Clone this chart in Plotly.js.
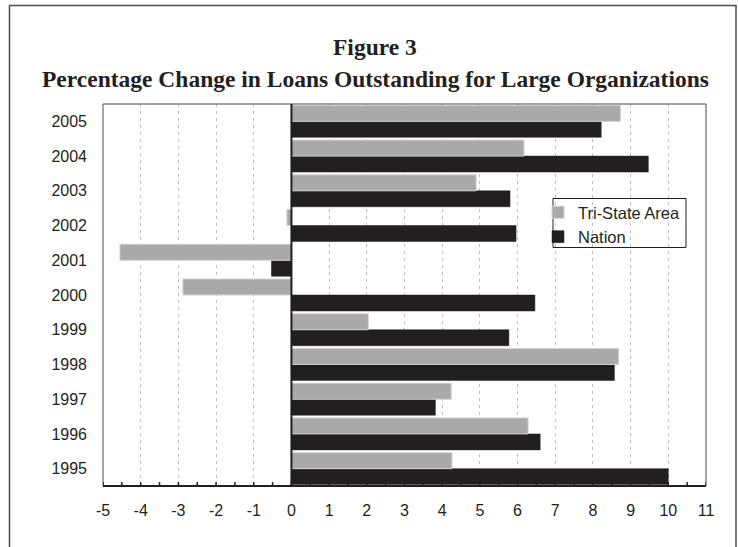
<!DOCTYPE html>
<html>
<head>
<meta charset="utf-8">
<script src="https://cdn.plot.ly/plotly-3.0.1.min.js"></script>
<style>
html,body{margin:0;padding:0;background:#fff;}
#chart{width:739px;height:547px;}
</style>
</head>
<body>
<div id="chart"></div>
<script>
const years = ["1995","1996","1997","1998","1999","2000","2001","2002","2003","2004","2005"];
const triState = [4.26, 6.28, 4.24, 8.68, 2.04, -2.88, -4.55, -0.12, 4.90, 6.17, 8.73];
const nation   = [10.0, 6.60, 3.82, 8.57, 5.77, 6.46, -0.53, 5.96, 5.80, 9.47, 8.22];
const xTickVals = [-5,-4,-3,-2,-1,0,1,2,3,4,5,6,7,8,9,10,11];
const titleLine1 = "Figure 3";
const titleLine2 = "Percentage Change in Loans Outstanding for Large Organizations";

const W = 739, H = 547;
const L = 103, R = 33, T = 104, B = 61;
const pw = W - L - R, ph = H - T - B;
const px = v => (v - L) / pw;
const py = v => (H - B - v) / ph;

const traces = [
  {type:'bar', orientation:'h', name:'Nation', y:years, x:nation,
   marker:{color:'#231f20', line:{color:'#231f20', width:0.5}}},
  {type:'bar', orientation:'h', name:'Tri-State Area', y:years, x:triState,
   marker:{color:'#a8a9a9', line:{color:'#d2d2d2', width:1}}}
];

const layout = {
  width:W, height:H,
  margin:{l:L, r:R, t:T, b:B, pad:0},
  paper_bgcolor:'#fff', plot_bgcolor:'#fff',
  barmode:'group', bargap:0.08, bargroupgap:0,
  font:{family:'"Liberation Sans", Arial, sans-serif', size:16, color:'#231f20'},
  showlegend:true,
  legend:{traceorder:'reversed', x:px(538), y:py(195), xanchor:'left', yanchor:'top',
          bgcolor:'rgba(255,255,255,0)', borderwidth:0, font:{size:16.5, color:'#231f20'},
          itemwidth:30, tracegroupgap:0},
  xaxis:{range:[-5,11], tickmode:'array', tickvals:xTickVals, ticktext:xTickVals.map(String),
         showgrid:true, gridcolor:'#bdbdbd', gridwidth:1, griddash:'3px,4px',
         zeroline:false, showline:false, ticks:'', ticklabelstandoff:13,
         tickfont:{size:16}, fixedrange:true},
  yaxis:{type:'category', showgrid:false, zeroline:false, showline:false, ticks:'',
         ticklabelstandoff:15, tickfont:{size:16}, fixedrange:true},
  annotations:[
    {text:'<b>'+titleLine1+'</b>', xref:'paper', yref:'paper', x:px(375), y:py(47),
     xanchor:'center', yanchor:'middle', showarrow:false,
     font:{family:'"Liberation Serif", "Times New Roman", serif', size:23.5, color:'#231f20'}},
    {text:'<b>'+titleLine2+'</b>', xref:'paper', yref:'paper', x:px(375), y:py(79),
     xanchor:'center', yanchor:'middle', showarrow:false,
     font:{family:'"Liberation Serif", "Times New Roman", serif', size:23.5, color:'#231f20'}}
  ],
  shapes:[
    {type:'rect', xref:'paper', yref:'paper', x0:px(9.5), x1:px(736), y0:py(600), y1:py(5.5),
     line:{color:'#4a4a4a', width:1.5}, fillcolor:'rgba(0,0,0,0)', layer:'above'},
    {type:'rect', xref:'paper', yref:'paper', x0:0, x1:1, y0:0, y1:1,
     line:{color:'#4a4a4a', width:1}, fillcolor:'rgba(0,0,0,0)', layer:'above'},
    {type:'line', xref:'x', yref:'paper', x0:0, x1:0, y0:0, y1:1,
     line:{color:'#231f20', width:2}, layer:'above'},
    {type:'line', xref:'paper', yref:'paper', x0:0, x1:1, y0:0, y1:0,
     line:{color:'#231f20', width:2}, layer:'above'},
    {type:'rect', xref:'paper', yref:'paper', x0:px(553), x1:px(686), y0:py(247.5), y1:py(198.5),
     line:{color:'#231f20', width:1}, fillcolor:'#fff', layer:'below'}
  ]
};

const tickMarks = [];
for (let i = 0; i <= 32; i++) {
  tickMarks.push(-5 + i * 0.5);
}
tickMarks.forEach(v => {
  layout.shapes.push({type:'line', xref:'x', yref:'paper', x0:v, x1:v,
    y0:0, y1:4/ph, line:{color:'#231f20', width:1.5}, layer:'above'});
});

Plotly.newPlot('chart', traces, layout, {displayModeBar:false, staticPlot:true});
</script>
</body>
</html>
